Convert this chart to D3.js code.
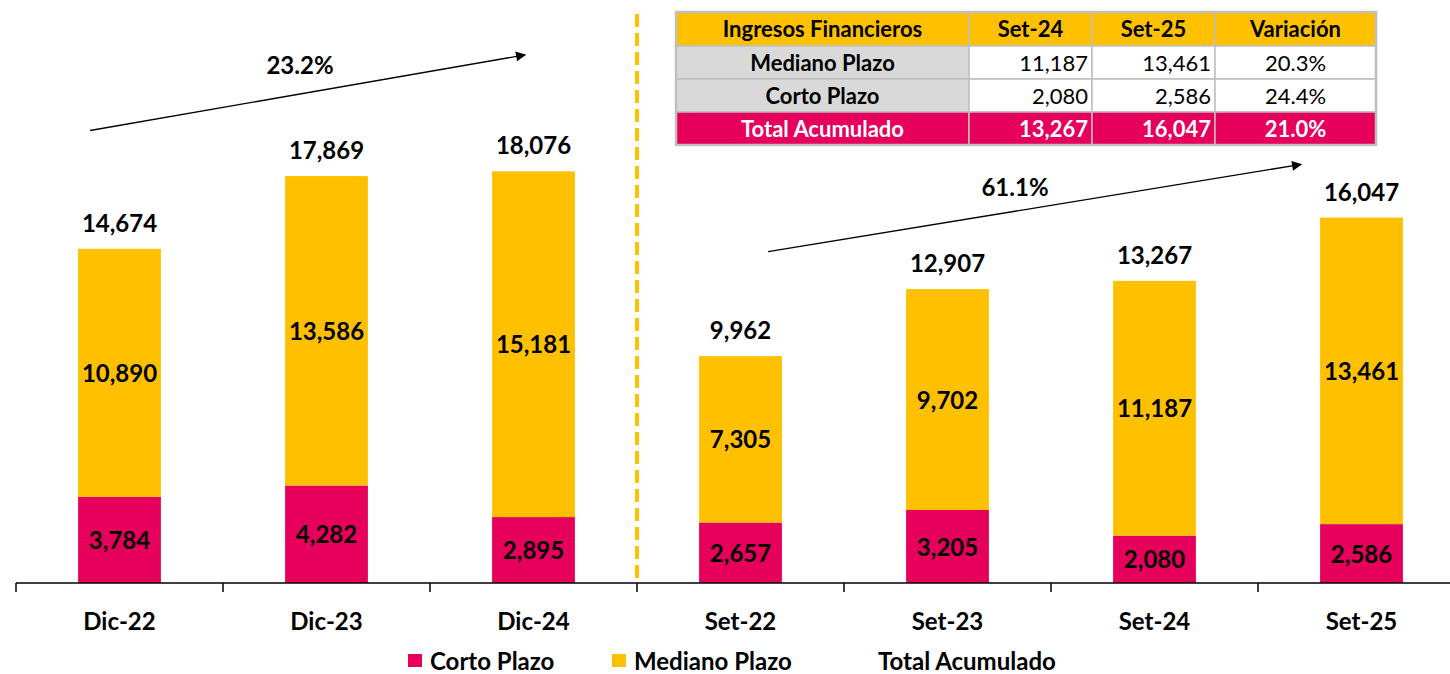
<!DOCTYPE html>
<html>
<head>
<meta charset="utf-8">
<script src="https://cdn.jsdelivr.net/npm/d3@7"></script>
<style>
  body { margin: 0; background: #fff; }
  svg { display: block; font-family: Lato, "Open Sans", sans-serif; }
</style>
</head>
<body>
<svg id="chart" width="1450" height="674"></svg>
<script>
// data
const categories = ["Dic-22", "Dic-23", "Dic-24", "Set-22", "Set-23", "Set-24", "Set-25"];
const cortoPlazo = [3784, 4282, 2895, 2657, 3205, 2080, 2586];
const medianoPlazo = [10890, 13586, 15181, 7305, 9702, 11187, 13461];
const totalAcumulado = [14674, 17869, 18076, 9962, 12907, 13267, 16047];

const tableHeader = ["Ingresos Financieros", "Set-24", "Set-25", "Variación"];
const tableRows = [
    ["Mediano Plazo", "11,187", "13,461", "20.3%"],
    ["Corto Plazo", "2,080", "2,586", "24.4%"],
    ["Total Acumulado", "13,267", "16,047", "21.0%"]
];

const growthLabels = ["23.2%", "61.1%"];
const legendItems = ["Corto Plazo", "Mediano Plazo", "Total Acumulado"];

// colores
const PINK = "#E6005C";
const YELLOW = "#FFC000";
const GREY = "#D9D9D9";

const svg = d3.select("#chart");
const fmt = d3.format(",");

// escalas
const x = d3.scaleBand()
    .domain(categories)
    .range([16, 1465])
    .paddingInner(0.6)
    .paddingOuter(0.3);
const step = x.step();
const y = d3.scaleLinear().domain([0, 25600]).range([583, 0]);

const rows = categories.map((c, i) => ({
    cat: c, corto: cortoPlazo[i], mediano: medianoPlazo[i], total: totalAcumulado[i]
}));

// barras apiladas
const stack = d3.stack().keys(["corto", "mediano"])(rows);
const colors = { corto: PINK, mediano: YELLOW };

stack.forEach(layer => {
    svg.append("g").selectAll("rect")
        .data(layer)
        .enter().append("rect")
        .attr("x", d => x(d.data.cat))
        .attr("y", d => y(d[1]))
        .attr("width", x.bandwidth())
        .attr("height", d => y(d[0]) - y(d[1]))
        .attr("fill", colors[layer.key]);

    svg.append("g").selectAll("text")
        .data(layer)
        .enter().append("text")
        .attr("x", d => x(d.data.cat) + x.bandwidth() / 2)
        .attr("y", d => (y(d[0]) + y(d[1])) / 2 + 9)
        .attr("text-anchor", "middle")
        .attr("font-size", 24)
        .attr("font-weight", "bold")
        .attr("fill", "#000")
        .text(d => fmt(d[1] - d[0]));
});

// totales
svg.append("g").selectAll("text")
    .data(rows)
    .enter().append("text")
    .attr("x", d => x(d.cat) + x.bandwidth() / 2)
    .attr("y", d => y(d.total) - 17)
    .attr("text-anchor", "middle")
    .attr("font-size", 24)
    .attr("font-weight", "bold")
    .text(d => fmt(d.total));

// eje x
const axisG = svg.append("g");
axisG.append("line")
    .attr("x1", 16).attr("x2", 1450)
    .attr("y1", y(0)).attr("y2", y(0))
    .attr("stroke", "#000").attr("stroke-width", 1.5);

const bounds = categories.map(c => x(c) - step * 0.3);
axisG.selectAll(".tick")
    .data(bounds)
    .enter().append("line")
    .attr("x1", d => d).attr("x2", d => d)
    .attr("y1", y(0)).attr("y2", y(0) + 9)
    .attr("stroke", "#000").attr("stroke-width", 1.5);

axisG.selectAll(".lbl")
    .data(categories)
    .enter().append("text")
    .attr("x", d => x(d) + x.bandwidth() / 2)
    .attr("y", 630)
    .attr("text-anchor", "middle")
    .attr("font-size", 24)
    .attr("font-weight", "bold")
    .text(d => d);

// linea divisoria
const divX = x("Set-22") - step * 0.3;
svg.append("line")
    .attr("x1", divX).attr("x2", divX)
    .attr("y1", 14).attr("y2", y(0))
    .attr("stroke", YELLOW)
    .attr("stroke-width", 4)
    .attr("stroke-dasharray", "13,6");

// flechas de crecimiento
svg.append("defs").append("marker")
    .attr("id", "arrow")
    .attr("viewBox", "0 0 10 10")
    .attr("refX", 9).attr("refY", 5)
    .attr("markerWidth", 12).attr("markerHeight", 10)
    .attr("markerUnits", "userSpaceOnUse")
    .attr("orient", "auto")
    .append("path").attr("d", "M0,0 L10,5 L0,10 Z").attr("fill", "#000");

const arrows = [
    { x1: x("Dic-22") + 12, v1: 19870, x2: x("Dic-24") + 33, v2: 23190, lx: 300, ly: 74 },
    { x1: x("Set-22") + 69, v1: 14550, x2: x("Set-25") - 19, v2: 18380, lx: 1015, ly: 196 }
];
arrows.forEach((a, i) => {
    svg.append("line")
        .attr("x1", a.x1).attr("y1", y(a.v1))
        .attr("x2", a.x2).attr("y2", y(a.v2))
        .attr("stroke", "#000").attr("stroke-width", 1.3)
        .attr("marker-end", "url(#arrow)");
    svg.append("text")
        .attr("x", a.lx).attr("y", a.ly)
        .attr("text-anchor", "middle")
        .attr("font-size", 24)
        .attr("font-weight", "bold")
        .text(growthLabels[i]);
});

// tabla
const colX = [676, 969, 1092, 1215, 1376];
const rowY = [12, 46, 79, 112, 145];
const tbl = svg.append("g");
const allRows = [tableHeader].concat(tableRows);

allRows.forEach((r, ri) => {
    r.forEach((cell, ci) => {
        let bg = "#fff", color = "#000", weight = "normal", anchor = "middle";
        if (ri === 0) { bg = YELLOW; weight = "bold"; }
        else if (ri === allRows.length - 1) { bg = PINK; color = "#fff"; weight = "bold"; }
        else if (ci === 0) { bg = GREY; weight = "bold"; }
        if (ri > 0 && (ci === 1 || ci === 2)) anchor = "end";

        const x0 = colX[ci], x1 = colX[ci + 1], y0 = rowY[ri], y1 = rowY[ri + 1];
        tbl.append("rect")
            .attr("x", x0).attr("y", y0)
            .attr("width", x1 - x0).attr("height", y1 - y0)
            .attr("fill", bg)
            .attr("stroke", "#BFBFBF").attr("stroke-width", 1.5);
        tbl.append("text")
            .attr("x", anchor === "end" ? x1 - 4 : (x0 + x1) / 2)
            .attr("y", (y0 + y1) / 2 + 8)
            .attr("text-anchor", anchor)
            .attr("font-size", 22)
            .attr("font-weight", weight)
            .attr("fill", color)
            .text(cell);
    });
});
tbl.append("rect")
    .attr("x", colX[0]).attr("y", rowY[0])
    .attr("width", colX[4] - colX[0]).attr("height", rowY[4] - rowY[0])
    .attr("fill", "none").attr("stroke", "#BFBFBF").attr("stroke-width", 2.5);

// leyenda
const legendX = [408, 612, 856];
const legendColors = [PINK, YELLOW, "none"];
const leg = svg.append("g");
legendItems.forEach((t, i) => {
    leg.append("rect")
        .attr("x", legendX[i]).attr("y", 654)
        .attr("width", 14).attr("height", 13)
        .attr("fill", legendColors[i]);
    leg.append("text")
        .attr("x", legendX[i] + 22).attr("y", 670)
        .attr("font-size", 24)
        .attr("font-weight", "bold")
        .text(t);
});
</script>
</body>
</html>
